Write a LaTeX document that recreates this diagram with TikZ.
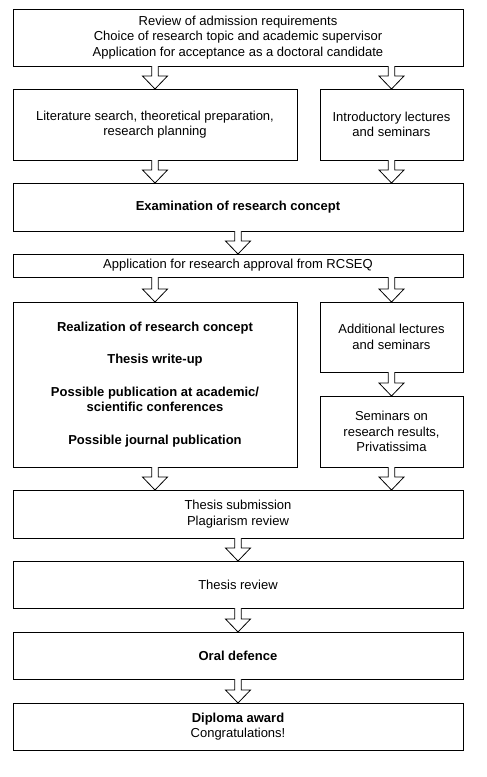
\documentclass[tikz,border=0pt]{standalone}
\usepackage{fontspec}
\setmainfont{Liberation Sans}
\usetikzlibrary{calc}
\tikzset{
  box/.style={draw, line width=0.8pt, inner sep=0pt, outer sep=0pt, align=center,
    font=\fontsize{13}{15.6}\selectfont, anchor=north west},
  blk/.style={draw, line width=0.8pt, fill=white, line join=miter}
}
\newcommand\blockarrow[2]{%
  \draw[blk] let \p1=(#1), \p2=(#2) in
    (\x1-3.3pt,\y1) -- (\x1-3.3pt,\y2+13pt) -- (\x1-12.5pt,\y2+13pt) -- (\x1,\y2)
    -- (\x1+12.5pt,\y2+13pt) -- (\x1+3.3pt,\y2+13pt) -- (\x1+3.3pt,\y1);}
\begin{document}
\begin{tikzpicture}[x=1pt,y=-1pt]
\useasboundingbox (0,0) rectangle (487,777);
\node[box, minimum width=450pt, minimum height=57pt] (n1) at (13,9)
  {Review of admission requirements\\Choice of research topic and academic supervisor\\Application for acceptance as a doctoral candidate};
\node[box, minimum width=284pt, minimum height=71pt] (n2) at (13,89)
  {Literature search, theoretical preparation,\\research planning};
\node[box, minimum width=143pt, minimum height=71pt] (n3) at (320,89)
  {Introductory lectures\\and seminars};
\node[box, minimum width=450pt, minimum height=48pt] (n4) at (13,183)
  {\bfseries Examination of research concept};
\node[box, minimum width=450pt, minimum height=23pt] (n5) at (13,254)
  {Application for research approval from RCSEQ};
\node[box, minimum width=284pt, minimum height=165pt] (n6) at (13,302)
  {\bfseries Realization of research concept\\[17pt]\bfseries Thesis write-up\\[17pt]\bfseries Possible publication at academic/\\\bfseries scientific conferences\\[17pt]\bfseries Possible journal publication};
\node[box, minimum width=143pt, minimum height=70pt] (n7) at (320,302)
  {Additional lectures\\and seminars};
\node[box, minimum width=143pt, minimum height=71pt] (n8) at (320,396)
  {Seminars on\\research results,\\Privatissima};
\node[box, minimum width=450pt, minimum height=48pt] (n9) at (13,490)
  {Thesis submission\\Plagiarism review};
\node[box, minimum width=450pt, minimum height=47pt] (n10) at (13,561)
  {Thesis review};
\node[box, minimum width=450pt, minimum height=47pt] (n11) at (13,632)
  {\bfseries Oral defence};
\node[box, minimum width=450pt, minimum height=47pt] (n12) at (13,703)
  {\bfseries Diploma award\\Congratulations!};
\blockarrow{n1.south -| n2.north}{n2.north}
\blockarrow{n1.south -| n3.north}{n3.north}
\blockarrow{n2.south}{n2.south |- n4.north}
\blockarrow{n3.south}{n3.south |- n4.north}
\blockarrow{n4.south}{n5.north}
\blockarrow{n5.south -| n6.north}{n6.north}
\blockarrow{n5.south -| n7.north}{n7.north}
\blockarrow{n7.south}{n8.north}
\blockarrow{n6.south}{n6.south |- n9.north}
\blockarrow{n8.south}{n8.south |- n9.north}
\blockarrow{n9.south}{n10.north}
\blockarrow{n10.south}{n11.north}
\blockarrow{n11.south}{n12.north}
\end{tikzpicture}
\end{document}
